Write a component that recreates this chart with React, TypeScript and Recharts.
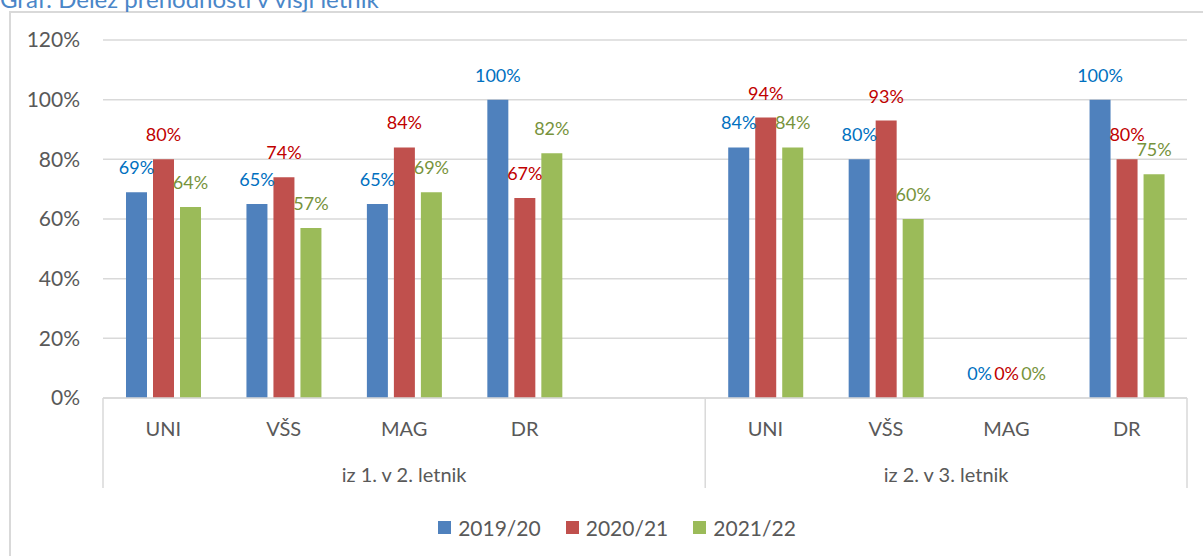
import React from "react";
import { Bar, BarChart, CartesianGrid, LabelList, Legend, XAxis, YAxis } from "recharts";

const categories = ["UNI", "VŠS", "MAG", "DR", "", "UNI", "VŠS", "MAG", "DR"];
const groupNames = ["iz 1. v 2. letnik", "iz 2. v 3. letnik"];
const groupOfCategory = [0, 0, 0, 0, 0, 1, 1, 1, 1];
const series2019 = [69, 65, 65, 100, null, 84, 80, 0, 100];
const series2020 = [80, 74, 84, 67, null, 94, 93, 0, 80];
const series2021 = [64, 57, 69, 82, null, 84, 60, 0, 75];
const yTicks = [0, 20, 40, 60, 80, 100, 120];

const data = categories.map((cat, i) => ({
  idx: i,
  cat,
  grp: groupOfCategory[i],
  y2019: series2019[i],
  y2020: series2020[i],
  y2021: series2021[i],
}));

const W = 1203;
const H = 556;
const LEFT = 103;
const RIGHT = 16;
const BAND = (W - LEFT - RIGHT) / categories.length;
const GRID = "#d9d9d9";
const TEXT = "#595959";

function makeLabel(color: string) {
  return (props: any) => {
    const { x, y, width, height, value } = props;
    if (value == null) return null;
    const top = Math.min(y, y + height);
    return (
      <text x={x + width / 2} y={top - 18} textAnchor="middle" fill={color} fontSize={18}>
        {`${value}%`}
      </text>
    );
  };
}

function CategoryTick(props: any) {
  const { x, y, payload } = props;
  const i = payload.value as number;
  const g = groupOfCategory[i];
  const isStart = i === 0 || groupOfCategory[i - 1] !== g;
  const isLast = i === categories.length - 1;
  const count = groupOfCategory.filter((v) => v === g).length;
  const left = x - BAND / 2;
  return (
    <g>
      <text x={x} y={y + 30} textAnchor="middle" dominantBaseline="central" fill={TEXT} fontSize={20}>
        {categories[i]}
      </text>
      {isStart && (
        <>
          <line x1={left} x2={left} y1={y} y2={y + 90} stroke={GRID} strokeWidth={1.5} />
          <text
            x={left + (count * BAND) / 2}
            y={y + 76}
            textAnchor="middle"
            dominantBaseline="central"
            fill={TEXT}
            fontSize={20}
          >
            {groupNames[g]}
          </text>
        </>
      )}
      {isLast && <line x1={x + BAND / 2} x2={x + BAND / 2} y1={y} y2={y + 90} stroke={GRID} strokeWidth={1.5} />}
    </g>
  );
}

function LegendContent(props: any) {
  const { payload = [] } = props;
  return (
    <div style={{ display: "flex", justifyContent: "center", paddingLeft: 47, height: 30, alignItems: "center" }}>
      {payload.map((p: any, i: number) => (
        <div key={p.value} style={{ display: "flex", alignItems: "center", marginLeft: i === 0 ? 0 : 25 }}>
          <span style={{ width: 13, height: 13, background: p.color, marginRight: 7, display: "inline-block" }} />
          <span style={{ color: TEXT, fontSize: 21 }}>{p.value}</span>
        </div>
      ))}
    </div>
  );
}

export default function App() {
  return (
    <div
      style={{
        position: "absolute",
        left: 0,
        top: 0,
        width: W,
        height: H,
        overflow: "hidden",
        background: "#fff",
        fontFamily: "Lato, sans-serif",
      }}
    >
      <div
        style={{
          position: "absolute",
          left: 9,
          top: 11,
          width: W + 20,
          height: H + 20,
          borderLeft: `2px solid ${GRID}`,
          borderTop: `2px solid ${GRID}`,
        }}
      />
      <div
        style={{
          position: "absolute",
          left: 0,
          top: -16,
          fontSize: 24,
          lineHeight: "30px",
          color: "#4a86c8",
          whiteSpace: "nowrap",
        }}
      >
        Graf: Delež prehodnosti v višji letnik
      </div>
      <div style={{ position: "absolute", left: 0, top: 0 }}>
        <BarChart
          width={W}
          height={H}
          data={data}
          margin={{ top: 40, right: RIGHT, left: 0, bottom: 14 }}
          barGap={6}
          barCategoryGap={23}
        >
          <CartesianGrid vertical={false} stroke={GRID} strokeWidth={1.5} />
          <XAxis
            dataKey="idx"
            interval={0}
            axisLine={{ stroke: GRID, strokeWidth: 1.5 }}
            tickLine={false}
            tickSize={0}
            tickMargin={0}
            height={114}
            tick={<CategoryTick />}
          />
          <YAxis
            width={LEFT}
            domain={[0, 120]}
            ticks={yTicks}
            interval={0}
            axisLine={false}
            tickLine={false}
            tickMargin={17}
            tickFormatter={(v) => `${v}%`}
            tick={{ fill: TEXT, fontSize: 21 }}
          />
          <Legend verticalAlign="bottom" align="center" wrapperStyle={{ height: 30 }} content={<LegendContent />} />
          <Bar dataKey="y2019" name="2019/20" fill="#4f81bd" minPointSize={0.01} isAnimationActive={false}>
            <LabelList dataKey="y2019" content={makeLabel("#0070c0")} />
          </Bar>
          <Bar dataKey="y2020" name="2020/21" fill="#c0504d" minPointSize={0.01} isAnimationActive={false}>
            <LabelList dataKey="y2020" content={makeLabel("#c00000")} />
          </Bar>
          <Bar dataKey="y2021" name="2021/22" fill="#9bbb59" minPointSize={0.01} isAnimationActive={false}>
            <LabelList dataKey="y2021" content={makeLabel("#77933c")} />
          </Bar>
        </BarChart>
      </div>
    </div>
  );
}
